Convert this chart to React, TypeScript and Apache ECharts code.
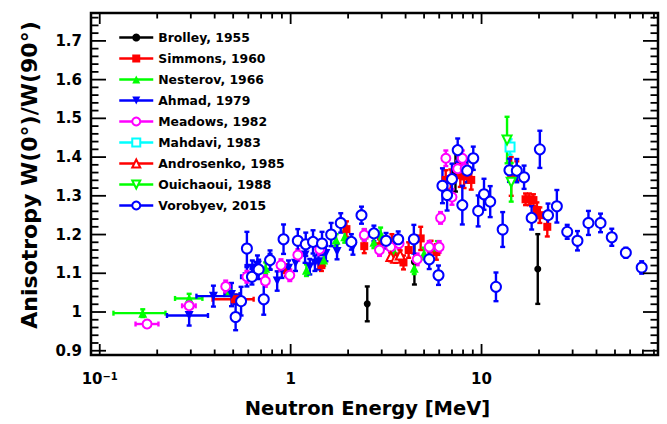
import React, { useEffect, useRef } from 'react';
import * as echarts from 'echarts';

const X_MIN = 0.09;
const X_MAX = 84;
const Y_MIN = 0.889;
const Y_MAX = 1.772;

// Tick values
const xMajorTicks = [0.1, 1, 10];
const xMinorTicks = [0.09, 0.2, 0.3, 0.4, 0.5, 0.6, 0.7, 0.8, 0.9, 2, 3, 4, 5, 6, 7, 8, 9, 20, 30, 40, 50, 60, 70, 80];
const yMajorTicks = [0.9, 1.0, 1.1, 1.2, 1.3, 1.4, 1.5, 1.6, 1.7];
const yMinorTicks = [
  0.92, 0.94, 0.96, 0.98, 1.02, 1.04, 1.06, 1.08, 1.12, 1.14, 1.16, 1.18, 1.22, 1.24, 1.26, 1.28,
  1.32, 1.34, 1.36, 1.38, 1.42, 1.44, 1.46, 1.48, 1.52, 1.54, 1.56, 1.58, 1.62, 1.64, 1.66, 1.68,
  1.72, 1.74, 1.76,
];
const yLabelValues = [0.9, 1.0, 1.1, 1.2, 1.3, 1.4, 1.5, 1.6, 1.7];

// [E (MeV), W(0)/W(90), dW, Elow?, Ehigh?]
const brolley = [
  [2.52, 1.021, 0.045],
  [4.45, 1.129, 0.058],
  [7.3, 1.361, 0.05],
  [19.7, 1.111, 0.09],
];
const simmons = [
  [0.51, 1.033, 0.012, 0.39, 0.64],
  [0.95, 1.108, 0.015],
  [1.45, 1.121, 0.015],
  [1.96, 1.214, 0.02],
  [2.43, 1.17, 0.018],
  [2.92, 1.17, 0.018],
  [3.39, 1.181, 0.02],
  [3.9, 1.128, 0.018],
  [4.15, 1.16, 0.02],
  [4.8, 1.19, 0.03],
  [5.44, 1.164, 0.02],
  [5.8, 1.155, 0.02],
  [6.49, 1.341, 0.025],
  [6.9, 1.343, 0.025],
  [7.74, 1.353, 0.03],
  [8.1, 1.35, 0.03],
  [8.41, 1.364, 0.03],
  [8.83, 1.341, 0.025],
  [14.3, 1.35, 0.05],
  [15.3, 1.364, 0.025],
  [17.0, 1.291, 0.015],
  [17.8, 1.291, 0.015],
  [18.7, 1.289, 0.015],
  [19.5, 1.263, 0.02],
  [20.2, 1.25, 0.02],
  [22.1, 1.22, 0.025],
];
const nesterov = [
  [0.168, 0.997, 0.01, 0.118, 0.221],
  [0.294, 1.035, 0.012, 0.248, 0.345],
  [0.48, 1.055, 0.012],
  [0.74, 1.113, 0.015],
  [1.21, 1.108, 0.015],
  [1.49, 1.134, 0.015],
  [1.73, 1.186, 0.015],
  [1.92, 1.194, 0.015],
  [2.43, 1.199, 0.015],
  [2.73, 1.18, 0.015],
  [2.96, 1.203, 0.015],
  [3.48, 1.157, 0.015],
  [4.44, 1.113, 0.015],
  [5.0, 1.151, 0.015],
  [5.87, 1.168, 0.015],
];
const ahmad = [
  [0.294, 0.991, 0.026, 0.225, 0.369],
  [0.394, 1.041, 0.027, 0.321, 0.498],
  [0.49, 1.045, 0.03, 0.45, 0.54],
  [0.59, 1.091, 0.025, 0.55, 0.63],
  [0.63, 1.113, 0.02],
  [0.67, 1.121, 0.025],
  [0.78, 1.13, 0.02],
  [0.85, 1.08, 0.025],
  [0.9, 1.108, 0.02],
  [0.975, 1.113, 0.02],
  [1.06, 1.126, 0.02],
  [1.19, 1.147, 0.02],
  [1.26, 1.117, 0.02],
  [1.34, 1.126, 0.02],
  [1.4, 1.13, 0.02],
  [1.53, 1.151, 0.02],
  [1.75, 1.156, 0.02],
  [2.12, 1.168, 0.02],
];
const meadows = [
  [0.177, 0.969, 0.008, 0.154, 0.203],
  [0.294, 1.016, 0.008, 0.27, 0.318],
  [0.457, 1.066, 0.015],
  [0.59, 1.091, 0.015],
  [0.737, 1.08, 0.015],
  [0.89, 1.121, 0.015],
  [0.99, 1.095, 0.015],
  [1.09, 1.147, 0.015],
  [1.42, 1.162, 0.015],
  [2.43, 1.199, 0.015],
  [2.92, 1.16, 0.015],
  [3.34, 1.168, 0.015],
  [3.7, 1.177, 0.015],
  [4.6, 1.136, 0.015],
  [5.32, 1.168, 0.015],
  [6.0, 1.168, 0.015],
  [6.1, 1.243, 0.015],
  [6.5, 1.397, 0.02],
  [7.0, 1.297, 0.02],
  [7.5, 1.37, 0.02],
  [7.93, 1.397, 0.02],
  [8.2, 1.37, 0.025],
];
const mahdavi = [[14.1, 1.426, 0.02]];
const androsenko = [
  [3.35, 1.143, 0.012],
  [3.55, 1.139, 0.012],
  [3.75, 1.147, 0.012],
];
const ouichaoui = [
  [13.6, 1.444, 0.06],
  [14.3, 1.335, 0.05],
];
const vorobyev = [
  [0.515, 0.987, 0.034],
  [0.55, 1.028, 0.037],
  [0.59, 1.164, 0.043],
  [0.627, 1.091, 0.02],
  [0.68, 1.11, 0.025],
  [0.723, 1.033, 0.04],
  [0.78, 1.134, 0.025],
  [0.918, 1.188, 0.038],
  [1.09, 1.184, 0.03],
  [1.2, 1.175, 0.03],
  [1.31, 1.181, 0.03],
  [1.46, 1.177, 0.03],
  [1.63, 1.2, 0.03],
  [1.83, 1.23, 0.025],
  [2.08, 1.181, 0.02],
  [2.35, 1.25, 0.022],
  [2.73, 1.203, 0.02],
  [3.16, 1.184, 0.02],
  [3.66, 1.188, 0.02],
  [4.42, 1.188, 0.037],
  [5.32, 1.136, 0.025],
  [5.95, 1.095, 0.025],
  [6.24, 1.326, 0.045],
  [6.6, 1.302, 0.04],
  [7.0, 1.343, 0.04],
  [7.5, 1.418, 0.03],
  [7.93, 1.276, 0.05],
  [8.41, 1.365, 0.03],
  [9.05, 1.397, 0.03],
  [9.6, 1.261, 0.04],
  [10.3, 1.304, 0.04],
  [11.1, 1.285, 0.04],
  [11.9, 1.065, 0.037],
  [12.9, 1.213, 0.045],
  [14.0, 1.366, 0.03],
  [15.3, 1.365, 0.03],
  [16.7, 1.348, 0.03],
  [18.3, 1.243, 0.03],
  [20.2, 1.42, 0.048],
  [22.3, 1.25, 0.03],
  [24.8, 1.273, 0.042],
  [28.1, 1.207, 0.018],
  [31.8, 1.184, 0.025],
  [36.3, 1.23, 0.031],
  [42, 1.23, 0.024],
  [48.1, 1.193, 0.022],
  [57.0, 1.153, 0.013],
  [69.0, 1.115, 0.016],
];

const FONT = 'DejaVu Sans';

type DS = {
  name: string;
  data: number[][];
  color: string;
  symbol: string;
  size: number;
  rotate?: number;
};

const datasets: DS[] = [
  { name: 'Brolley, 1955', data: brolley, color: '#000000', symbol: 'circle', size: 7 },
  { name: 'Simmons, 1960', data: simmons, color: '#ff0000', symbol: 'rect', size: 8 },
  { name: 'Nesterov, 1966', data: nesterov, color: '#00ff00', symbol: 'triangle', size: 9 },
  { name: 'Ahmad, 1979', data: ahmad, color: '#0000ff', symbol: 'triangle', size: 9, rotate: 180 },
  { name: 'Meadows, 1982', data: meadows, color: '#ff00ff', symbol: 'emptyCircle', size: 9 },
  { name: 'Mahdavi, 1983', data: mahdavi, color: '#00ffff', symbol: 'emptyRect', size: 9 },
  { name: 'Androsenko, 1985', data: androsenko, color: '#ff0000', symbol: 'emptyTriangle', size: 9 },
  { name: 'Ouichaoui, 1988', data: ouichaoui, color: '#00ff00', symbol: 'emptyTriangle', size: 9, rotate: 180 },
  { name: 'Vorobyev, 2015', data: vorobyev, color: '#0000ff', symbol: 'emptyCircle', size: 10 },
];

function errSeries(ds: DS) {
  return {
    type: 'custom',
    name: ds.name + ' (errors)',
    coordinateSystem: 'cartesian2d',
    clip: false,
    silent: true,
    dimensions: ['x', 'y', 'dy', 'xlo', 'xhi'],
    encode: { x: 0, y: 1 },
    data: ds.data.map((p) => [p[0], p[1], p[2], p[3] ?? p[0], p[4] ?? p[0]]),
    renderItem: (_params: any, api: any) => {
      const x = api.value(0);
      const y = api.value(1);
      const dy = api.value(2);
      const xlo = api.value(3);
      const xhi = api.value(4);
      const c = api.coord([x, y]);
      const t = api.coord([x, y + dy]);
      const b = api.coord([x, y - dy]);
      const l = api.coord([xlo, y]);
      const r = api.coord([xhi, y]);
      const style = { stroke: ds.color, lineWidth: 2.4 };
      const cap = 2.5;
      const children: any[] = [];
      if (dy > 0) {
        children.push({ type: 'line', shape: { x1: c[0], y1: t[1], x2: c[0], y2: b[1] }, style });
        children.push({ type: 'line', shape: { x1: c[0] - cap, y1: t[1], x2: c[0] + cap, y2: t[1] }, style });
        children.push({ type: 'line', shape: { x1: c[0] - cap, y1: b[1], x2: c[0] + cap, y2: b[1] }, style });
      }
      if (xhi > xlo) {
        children.push({ type: 'line', shape: { x1: l[0], y1: c[1], x2: r[0], y2: c[1] }, style });
        children.push({ type: 'line', shape: { x1: l[0], y1: c[1] - cap, x2: l[0], y2: c[1] + cap }, style });
        children.push({ type: 'line', shape: { x1: r[0], y1: c[1] - cap, x2: r[0], y2: c[1] + cap }, style });
      }
      return { type: 'group', children };
    },
  };
}

function markerSeries(ds: DS) {
  return {
    type: 'line',
    name: ds.name,
    data: ds.data.map((p) => [p[0], p[1]]),
    symbol: ds.symbol,
    symbolSize: ds.size,
    symbolRotate: ds.rotate ?? 0,
    showSymbol: true,
    silent: true,
    lineStyle: { color: ds.color, width: 2.5, opacity: 0 },
    itemStyle: { color: ds.color },
  };
}

function tickSeries() {
  const data: number[][] = [];
  xMajorTicks.forEach((v) => data.push([v, Y_MIN, 0]));
  xMinorTicks.forEach((v) => data.push([v, Y_MIN, 1]));
  yMajorTicks.forEach((v) => data.push([X_MIN, v, 2]));
  yMinorTicks.forEach((v) => data.push([X_MIN, v, 3]));
  return {
    type: 'custom',
    name: 'ticks',
    coordinateSystem: 'cartesian2d',
    clip: false,
    silent: true,
    z: 5,
    dimensions: ['x', 'y', 'code'],
    encode: { x: 0, y: 1 },
    data,
    renderItem: (_params: any, api: any) => {
      const code = api.value(2);
      const style = { stroke: '#000', lineWidth: 1.8 };
      if (code < 2) {
        const x = api.value(0);
        const pb = api.coord([x, Y_MIN]);
        const pt = api.coord([x, Y_MAX]);
        const len = code === 0 ? 11 : 5.5;
        return {
          type: 'group',
          children: [
            { type: 'line', shape: { x1: pb[0], y1: pb[1], x2: pb[0], y2: pb[1] - len }, style },
            { type: 'line', shape: { x1: pt[0], y1: pt[1], x2: pt[0], y2: pt[1] + len }, style },
          ],
        };
      }
      const y = api.value(1);
      const pl = api.coord([X_MIN, y]);
      const pr = api.coord([X_MAX, y]);
      const len = code === 2 ? 15 : 7.5;
      return {
        type: 'group',
        children: [
          { type: 'line', shape: { x1: pl[0], y1: pl[1], x2: pl[0] + len, y2: pl[1] }, style },
          { type: 'line', shape: { x1: pr[0], y1: pr[1], x2: pr[0] - len, y2: pr[1] }, style },
        ],
      };
    },
  };
}

export default function App() {
  const ref = useRef<HTMLDivElement>(null);
  useEffect(() => {
    if (!ref.current) return;
    const chart = echarts.init(ref.current, undefined, { renderer: 'svg' });
    const series: any[] = [];
    datasets.forEach((ds) => {
      series.push(errSeries(ds));
      series.push(markerSeries(ds));
    });
    series.push(tickSeries());
    chart.setOption({
      animation: false,
      backgroundColor: '#ffffff',
      grid: {
        left: 91,
        right: 9,
        top: 13,
        bottom: 69,
        show: true,
        borderColor: '#000',
        borderWidth: 2.5,
        backgroundColor: 'transparent',
      },
      legend: {
        data: datasets.map((d) => d.name),
        orient: 'vertical',
        left: 118,
        top: 31,
        padding: 0,
        itemWidth: 34,
        itemHeight: 10,
        itemGap: 8,
        selectedMode: false,
        textStyle: { fontFamily: FONT, fontWeight: 'bold', fontSize: 12.4, color: '#000', lineHeight: 13 },
        lineStyle: { width: 2.5, opacity: 1 },
      },
      xAxis: {
        type: 'log',
        logBase: 10,
        min: X_MIN,
        max: X_MAX,
        axisLine: { show: false },
        axisTick: { show: false },
        minorTick: { show: false },
        splitLine: { show: false },
        axisLabel: {
          margin: 16,
          color: '#000',
          fontFamily: FONT,
          fontWeight: 'bold',
          fontSize: 15,
          formatter: (v: number) => {
            const l = Math.log10(v);
            if (Math.abs(l - Math.round(l)) > 1e-6) return '';
            const k = Math.round(l);
            if (k < 0) return '{b|10}{s|−' + String(-k) + '}';
            return '{b|' + String(Math.round(Math.pow(10, k))) + '}';
          },
          rich: {
            b: { fontFamily: FONT, fontWeight: 'bold', fontSize: 15, color: '#000' },
            s: { fontFamily: FONT, fontWeight: 'bold', fontSize: 10, color: '#000', verticalAlign: 'top', padding: [0, 0, 6, 0] },
          },
        },
        name: 'Neutron Energy [MeV]',
        nameLocation: 'middle',
        nameGap: 43,
        nameTextStyle: { fontFamily: FONT, fontWeight: 'bold', fontSize: 19.5, color: '#000', padding: [0, 14, 0, 0] },
      },
      yAxis: {
        type: 'value',
        min: Y_MIN,
        max: Y_MAX,
        axisLine: { show: false },
        axisTick: { show: false },
        splitLine: { show: false },
        axisLabel: {
          customValues: yLabelValues,
          margin: 9,
          color: '#000',
          fontFamily: FONT,
          fontWeight: 'bold',
          fontSize: 15,
          formatter: (v: number) => (Math.abs(v - 1) < 1e-9 ? '1' : v.toFixed(1)),
        },
        name: 'Anisotropy W(0°)/W(90°)',
        nameLocation: 'middle',
        nameGap: 51,
        nameTextStyle: { fontFamily: FONT, fontWeight: 'bold', fontSize: 22, color: '#000', padding: [0, 0, 0, 18] },
      },
      series,
    });
    return () => chart.dispose();
  }, []);
  return <div ref={ref} style={{ position: 'fixed', left: 0, top: 0, width: 667, height: 424 }} />;
}
